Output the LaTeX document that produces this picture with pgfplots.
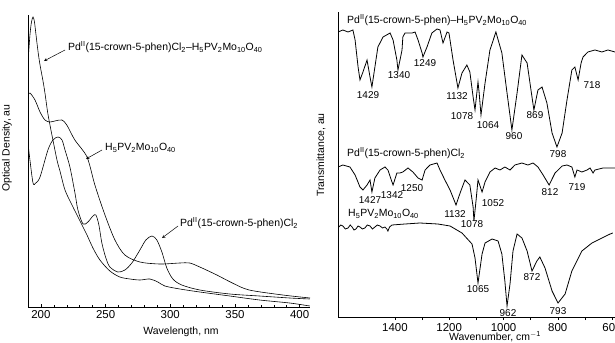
\documentclass[border=0pt]{standalone}
\usepackage{fontspec}
\setmainfont{Liberation Sans}
\usepackage{pgfplots}
\pgfplotsset{compat=1.18}
\begin{document}
\fontsize{10.5}{12}\selectfont
\begin{tikzpicture}[x=1bp,y=1bp]
\useasboundingbox (0,0) rectangle (615,342);
% ---------------- left: UV-vis ----------------
\begin{axis}[at={(28bp,35bp)}, anchor=south west, scale only axis,
  width=282bp, height=292bp,
  xmin=190, xmax=408, ymin=0, ymax=292,
  axis x line*=bottom, axis y line*=left, axis line style={-, line width=0.6pt},
  xtick={200,250,300,350,400}, minor x tick num=4, ytick=\empty,
  tick align=inside, major tick length=3bp, minor tick length=2bp,
  tick style={black, line width=0.5pt},
  xticklabel style={font=\fontsize{11.5}{12}\selectfont},
  /pgf/number format/assume math mode=true,
  /pgf/number format/1000 sep={}]
% Pd(15-crown-5-phen)Cl2 - H5PV2Mo10O40
\addplot[black, line width=0.6pt, smooth, no marks] coordinates {(190,245) (191.5,272) (192.7,285) (193.9,290) (195,285) (196.2,272) (197.8,255) (199.3,242) (201.6,226) (203.1,214) (205.4,193) (208.5,172) (212.4,147) (214.7,136) (218.6,117) (224,102) (230.2,86) (235.6,72) (240.2,59) (245.6,47) (253.3,36) (261,30) (268.8,28) (276.5,27) (284.2,28) (290.4,25) (295.8,21) (307.4,18) (322.8,15) (346,11) (369,7) (392.3,4) (407.8,1)};
% H5PV2Mo10O40
\addplot[black, line width=0.6pt, smooth, no marks] coordinates {(190,212) (191.5,214) (195.4,207) (199.3,195) (203.1,187) (206.9,185) (210.8,186) (216.2,187) (220,182) (226.2,167) (235.6,150) (241.7,122) (249.5,92) (257.2,67) (264.9,52) (276.5,45) (292,43) (307.4,44) (315,44) (322.8,40) (336,32) (348,24) (361,17) (387,12) (408,9)};
% Pd(15-crown-5-phen)Cl2
\addplot[black, line width=0.6pt, smooth, no marks] coordinates {(190,164) (191.5,147) (193.9,124) (196,124) (199.3,130) (205.4,157) (209.3,167) (213.2,170) (216.3,167) (218.6,157) (222.4,140) (226.3,114) (228.6,97) (232.5,83) (236.3,85) (240.2,91) (242.5,92) (244.8,82) (247.1,64) (250.2,49) (253.3,40) (259.5,35) (264.9,37) (270.3,44) (276.5,57) (281.1,67) (285.8,71) (289.6,67) (293.5,55) (297.3,39) (302,28) (308.9,22) (322.8,17) (346,13) (369,11) (392.3,9) (407.8,8)};
\end{axis}
% ---------------- right: IR ----------------
\begin{axis}[at={(338bp,25bp)}, anchor=south west, scale only axis,
  width=277bp, height=305bp,
  x dir=reverse, xmin=589, xmax=1610, ymin=0, ymax=305,
  axis x line*=bottom, axis y line*=left, axis line style={-, line width=0.6pt},
  xtick={600,800,...,1400}, minor x tick num=1, ytick=\empty,
  tick align=outside, major tick length=3bp, minor tick length=3bp,
  tick style={black, line width=0.5pt},
  xticklabel style={font=\fontsize{11.5}{12}\selectfont},
  /pgf/number format/assume math mode=true,
  /pgf/number format/1000 sep={}]
\addplot[black, line width=0.8pt, no marks] coordinates {(1610,285) (1592,287) (1573,285) (1555,287) (1547,277) (1536,250) (1529,237) (1518,245) (1503,257) (1492,240) (1485,230) (1474,250) (1463,270) (1444,280) (1418,284) (1407,277) (1393,257) (1389,247) (1374,267) (1371,280) (1363,284) (1337,284) (1326,285) (1315,277) (1300,264) (1297,260) (1282,270) (1264,284) (1245,288) (1234,287) (1223,274) (1208,285) (1201,284) (1186,257) (1168,229) (1153,244) (1135,252) (1124,245) (1112,220) (1105,207) (1094,235) (1090,225) (1083,202) (1068,234) (1050,267) (1028,285) (1006,264) (987,224) (969,187) (950,224) (932,262) (913,254) (895,220) (888,207) (873,227) (858,230) (840,214) (821,184) (803,170) (784,184) (766,217) (748,247) (737,250) (725,237) (714,254) (707,260) (689,265) (663,267) (637,265) (615,267) (589,265)};
\addplot[black, line width=0.8pt, no marks] coordinates {(1610,150) (1592,152) (1566,150) (1547,142) (1529,130) (1518,127) (1503,132) (1492,137) (1485,125) (1474,139) (1455,147) (1437,150) (1426,147) (1411,135) (1407,132) (1393,144) (1382,144) (1371,145) (1352,149) (1334,145) (1315,139) (1300,137) (1289,147) (1271,152) (1245,154) (1234,147) (1216,137) (1197,127) (1175,112) (1160,124) (1142,137) (1124,132) (1112,110) (1109,96) (1101,117) (1094,137) (1079,125) (1068,135) (1050,145) (1031,149) (1013,147) (995,150) (976,147) (958,152) (932,154) (910,152) (891,154) (873,150) (854,142) (832,132) (810,144) (784,151) (766,152) (748,150) (737,140) (729,147) (711,145) (692,147) (681,149) (670,144) (663,147) (633,149) (589,149)};
\addplot[black, line width=0.8pt, no marks] coordinates {(1610,89) (1600,92) (1592,91) (1583,88) (1573,89) (1565,92) (1558,90) (1551,87) (1544,88) (1536,91) (1529,90) (1520,88) (1511,89) (1502,92) (1492,91) (1483,88) (1474,90) (1465,92) (1455,91) (1446,89) (1437,90) (1430,88) (1426,86) (1420,90) (1411,92) (1363,93) (1308,94) (1242,93) (1197,91) (1153,84) (1116,73) (1105,59) (1094,34) (1079,63) (1068,74) (1042,78) (1020,76) (1006,63) (995,36) (987,11) (976,33) (965,66) (950,83) (932,79) (913,66) (895,46) (877,56) (866,60) (847,49) (821,26) (799,14) (773,23) (748,46) (711,66) (674,74) (637,79) (607,83) (597,84)};
\end{axis}
% ---------------- texts ----------------
\node[rotate=90] at (7,194) {Optical Density, au};
\node at (181,10) {Wavelength, nm};
\node[rotate=90] at (321,187) {Transmittance, au};
\node at (495,5) {Wavenumber, cm\textsuperscript{$-$1}};
\node[anchor=west, inner sep=0pt] at (68,295) {Pd\textsuperscript{II}(15-crown-5-phen)Cl\textsubscript{2}–H\textsubscript{5}PV\textsubscript{2}Mo\textsubscript{10}O\textsubscript{40}};
\draw[-stealth, line width=0.5pt] (65,292) -- (44,281);
\node[anchor=west, inner sep=0pt] at (105,194) {H\textsubscript{5}PV\textsubscript{2}Mo\textsubscript{10}O\textsubscript{40}};
\draw[-stealth, line width=0.5pt] (102,192) -- (86,183);
\node[anchor=west, inner sep=0pt] at (180,119) {Pd\textsuperscript{II}(15-crown-5-phen)Cl\textsubscript{2}};
\draw[-stealth, line width=0.5pt] (178,116) -- (162,104);
\node[anchor=west, inner sep=0pt] at (347,322) {Pd\textsuperscript{II}(15-crown-5-phen)–H\textsubscript{5}PV\textsubscript{2}Mo\textsubscript{10}O\textsubscript{40}};
\node[anchor=west, inner sep=0pt] at (347,189) {Pd\textsuperscript{II}(15-crown-5-phen)Cl\textsubscript{2}};
\node[anchor=west, inner sep=0pt] at (348,128) {H\textsubscript{5}PV\textsubscript{2}Mo\textsubscript{10}O\textsubscript{40}};
\begin{scope}[every node/.style={inner sep=0pt, font=\fontsize{10}{11}\selectfont}]
\node at (368,247) {1429};
\node at (399,267) {1340};
\node at (425,279) {1249};
\node at (457,246) {1132};
\node at (462,226) {1078};
\node at (488,217) {1064};
\node at (514,206) {960};
\node at (535,227) {869};
\node at (558,188) {798};
\node at (592,257) {718};
\node at (370,142) {1427};
\node at (392,147) {1342};
\node at (412,154) {1250};
\node at (455,128) {1132};
\node at (472,118) {1078};
\node at (493,139) {1052};
\node at (550,150) {812};
\node at (577,155) {719};
\node at (478,53) {1065};
\node at (508,29) {962};
\node at (532,65) {872};
\node at (558,31) {793};
\end{scope}
\end{tikzpicture}
\end{document}
